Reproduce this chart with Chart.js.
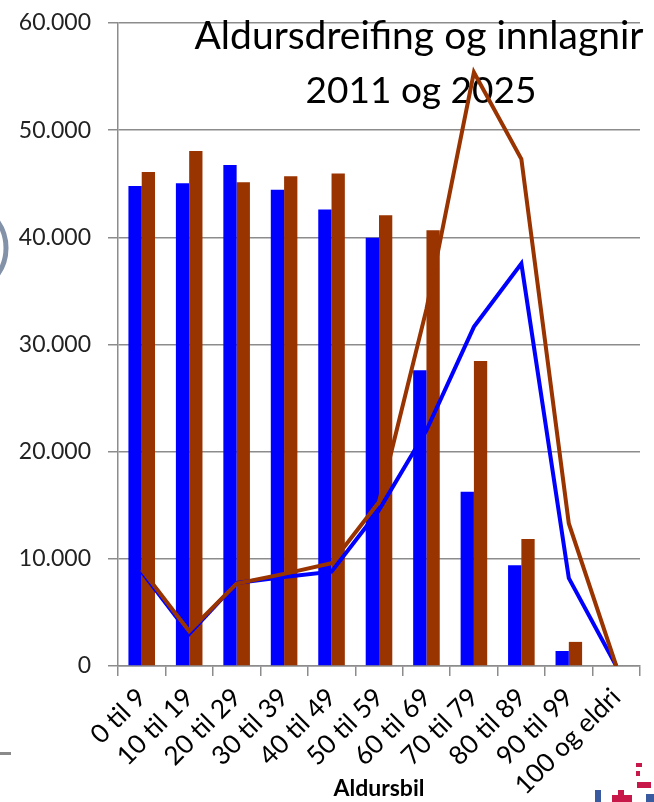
<!DOCTYPE html>
<html>
<head>
<meta charset="utf-8">
<title>Aldursdreifing og innlagnir 2011 og 2025</title>
<script src="https://cdn.jsdelivr.net/npm/chart.js@4.4.1/dist/chart.umd.min.js"></script>
<style>
    html, body { margin: 0; padding: 0; background: #fff; }
    canvas { display: block; }
</style>
</head>
<body>
<canvas id="ageChart" width="654" height="802"></canvas>
<script>
// ==============================
// Data
// ==============================

const ageGroups = [
    "0 til 9", "10 til 19", "20 til 29", "30 til 39", "40 til 49",
    "50 til 59", "60 til 69", "70 til 79", "80 til 89", "90 til 99", "100 og eldri"
];

// population per age group (bars)
const bars2011 = [44800, 45050, 46750, 44450, 42600, 39950, 27600, 16250, 9400, 1400, 0];
const bars2025 = [46100, 48050, 45150, 45700, 45950, 42050, 40650, 28450, 11850, 2250, 0];

// admissions per age group (lines)
const line2011 = [8800, 3000, 7750, 8300, 8800, 14550, 22000, 31650, 37550, 8200, 0];
const line2025 = [9000, 3250, 7700, 8600, 9600, 15300, 33300, 55400, 47300, 13300, 0];

const yTicks = [0, 10000, 20000, 30000, 40000, 50000, 60000];

const titleLines = ["Aldursdreifing og innlagnir", "2011 og 2025"];
const axisTitle = "Aldursbil";

// ==============================
// Styles
// ==============================

const BLUE = "#0000ff";
const BROWN = "#993300";
const GRID = "#8c8c8c";
const FONT = "Lato";

function formatThousands(v) {
    return String(v).replace(/\B(?=(\d{3})+(?!\d))/g, ".");
}

// slide title sits inside the plot, under the lines
const slideTitle = {
    id: "slideTitle",
    beforeDatasetsDraw(chart) {
        const ctx = chart.ctx;
        ctx.save();
        ctx.fillStyle = "#000";
        ctx.textAlign = "center";
        ctx.textBaseline = "alphabetic";
        ctx.font = "39px " + FONT;
        ctx.fillText(titleLines[0], 419, 49);
        ctx.font = "37px " + FONT;
        ctx.fillText(titleLines[1], 421, 103);
        ctx.restore();
    }
};

// bits of the slide around the chart
const slideBits = {
    id: "slideBits",
    afterDraw(chart) {
        const ctx = chart.ctx;
        ctx.save();

        // circle edge on the left
        ctx.strokeStyle = "#8392a8";
        ctx.lineWidth = 5;
        ctx.beginPath();
        ctx.arc(-40, 248, 46, -0.75, 0.75);
        ctx.stroke();

        // small dash bottom left
        ctx.fillStyle = "#8a8a8a";
        ctx.fillRect(0, 752, 11, 3);

        // logo corner
        ctx.fillStyle = "#c8184a";
        ctx.fillRect(636, 763, 6, 4);
        ctx.fillRect(636, 771, 4, 5);
        ctx.fillRect(637, 782, 14, 6);
        ctx.fillRect(612, 795, 20, 7);
        ctx.fillRect(618, 790, 6, 12);
        ctx.fillStyle = "#3a5aa0";
        ctx.fillRect(595, 790, 6, 12);
        ctx.fillRect(646, 794, 8, 8);

        ctx.restore();
    }
};

// ==============================
// Chart
// ==============================

new Chart(document.getElementById("ageChart"), {
    data: {
        labels: ageGroups,
        datasets: [
            {
                type: "bar",
                label: "Folketal 2011",
                data: bars2011,
                backgroundColor: BLUE,
                categoryPercentage: 0.56,
                barPercentage: 1.0,
                order: 3
            },
            {
                type: "bar",
                label: "Folketal 2025",
                data: bars2025,
                backgroundColor: BROWN,
                categoryPercentage: 0.56,
                barPercentage: 1.0,
                order: 3
            },
            {
                type: "line",
                label: "Innlagnir 2011",
                data: line2011,
                borderColor: BLUE,
                borderWidth: 4,
                pointRadius: 0,
                tension: 0,
                fill: false,
                borderJoinStyle: "miter",
                order: 2
            },
            {
                type: "line",
                label: "Innlagnir 2025",
                data: line2025,
                borderColor: BROWN,
                borderWidth: 4,
                pointRadius: 0,
                tension: 0,
                fill: false,
                borderJoinStyle: "miter",
                order: 1
            }
        ]
    },
    options: {
        responsive: false,
        animation: false,
        devicePixelRatio: 1,
        layout: {
            padding: { top: 23, right: 14, bottom: 0, left: 0 }
        },
        plugins: {
            legend: { display: false },
            tooltip: { enabled: false }
        },
        scales: {
            x: {
                afterFit: (scale) => { scale.height = 136; },
                grid: {
                    drawOnChartArea: false,
                    tickLength: 10,
                    color: GRID,
                    lineWidth: 1.5
                },
                border: { color: GRID, width: 1.5 },
                ticks: {
                    autoSkip: false,
                    minRotation: 45,
                    maxRotation: 45,
                    padding: 6,
                    color: "#000",
                    font: { family: FONT, size: 26 }
                },
                title: {
                    display: true,
                    text: axisTitle,
                    color: "#000",
                    padding: { top: 0, bottom: 0 },
                    font: { family: FONT, size: 23, weight: "bold" }
                }
            },
            y: {
                min: 0,
                max: 60000,
                afterFit: (scale) => {
                    scale.width = 118;
                    // labels may stick out above/below, like in the slide
                    scale.paddingTop = 0;
                    scale.paddingBottom = 0;
                },
                afterBuildTicks: (scale) => {
                    scale.ticks = yTicks.map(v => ({ value: v }));
                },
                grid: {
                    color: GRID,
                    lineWidth: 1.5,
                    tickLength: 10
                },
                border: { color: GRID, width: 1.5 },
                ticks: {
                    padding: 17,
                    color: "#222",
                    font: { family: FONT, size: 23 },
                    callback: (v) => formatThousands(v)
                }
            }
        }
    },
    plugins: [slideTitle, slideBits]
});
</script>
</body>
</html>
